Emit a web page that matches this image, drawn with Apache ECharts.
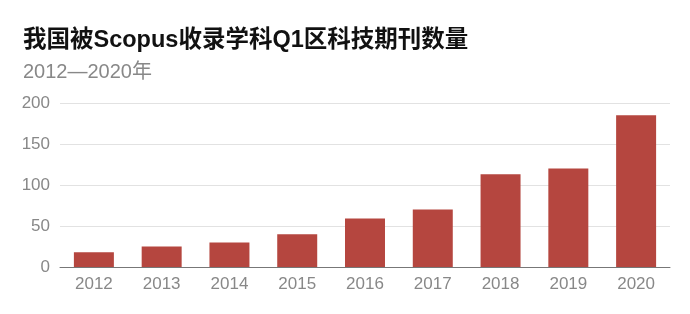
<!DOCTYPE html>
<html>
<head>
<meta charset="utf-8">
<script src="https://cdn.jsdelivr.net/npm/echarts@6/dist/echarts.min.js"></script>
<style>html,body{margin:0;padding:0;background:#fff}#c{width:690px;height:314px}</style>
</head>
<body>
<div id="c"></div>
<script>
const categories = ['2012','2013','2014','2015','2016','2017','2018','2019','2020'];
const values = [18, 25, 30, 40, 59, 70, 113, 120, 185];
const yTicks = [0, 50, 100, 150, 200];

const FONT = '"Liberation Sans", "Noto Sans CJK SC", sans-serif';
const chart = echarts.init(document.getElementById('c'));
chart.setOption({
  backgroundColor: '#fff',
  animation: false,
  title: {
    text: '我国被Scopus收录学科Q1区科技期刊数量',
    subtext: '2012—2020年',
    left: 18, top: 24,
    itemGap: 10,
    textStyle: { fontFamily: FONT, fontSize: 23.5, fontWeight: 'bold', color: '#111' },
    subtextStyle: { fontFamily: FONT, fontSize: 20, color: '#888' }
  },
  grid: { left: 60, right: 20, top: 103, bottom: 47, containLabel: false },
  xAxis: {
    type: 'category',
    data: categories,
    axisLine: { lineStyle: { color: '#777', width: 1 } },
    axisTick: { show: false },
    axisLabel: { fontFamily: FONT, fontSize: 17, color: '#888', margin: 9 }
  },
  yAxis: {
    type: 'value',
    min: yTicks[0], max: yTicks[yTicks.length - 1], interval: 50,
    axisLine: { show: false },
    axisTick: { show: false },
    axisLabel: { fontFamily: FONT, fontSize: 17, color: '#888', margin: 10 },
    splitLine: { lineStyle: { color: '#e2e2e2', width: 1 } }
  },
  series: [{
    type: 'bar',
    data: values,
    barWidth: '59%',
    itemStyle: { color: '#b5463f' }
  }]
});
</script>
</body>
</html>
